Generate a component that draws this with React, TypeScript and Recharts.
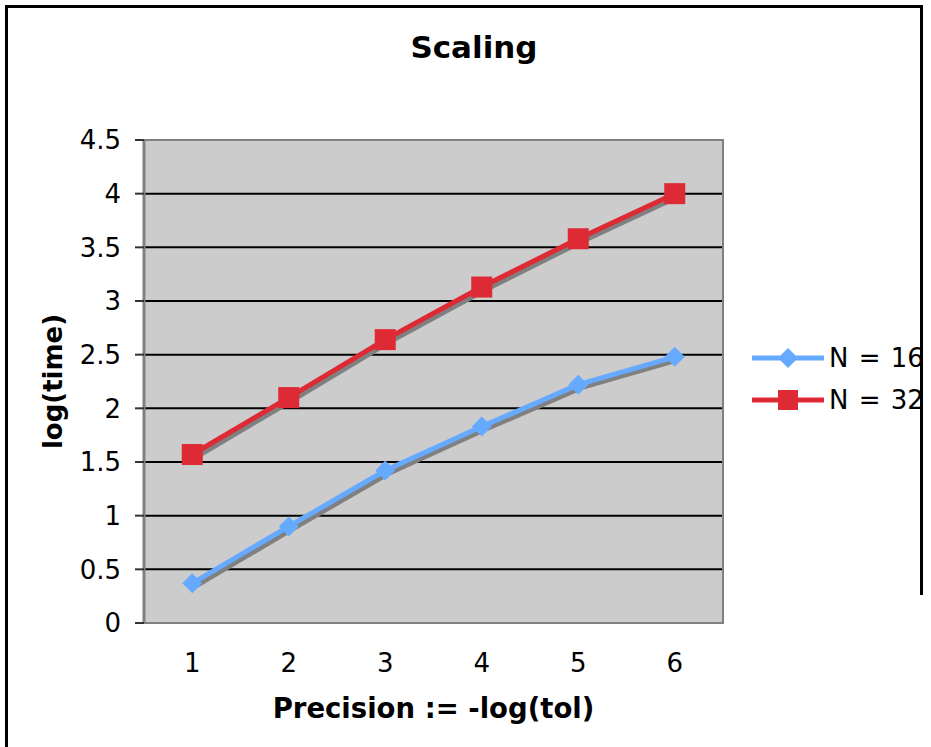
import React from 'react';
import { LineChart, Line, XAxis, YAxis, CartesianGrid, ReferenceArea } from 'recharts';

const categories = [1, 2, 3, 4, 5, 6];
const n16 = [0.37, 0.9, 1.42, 1.83, 2.22, 2.48];
const n32 = [1.57, 2.1, 2.64, 3.13, 3.58, 4.0];
const yTicks = [0, 0.5, 1, 1.5, 2, 2.5, 3, 3.5, 4, 4.5];
const gridValues = [0.5, 1, 1.5, 2, 2.5, 3, 3.5, 4];
const xBoundaries = [0.5, 1.5, 2.5, 3.5, 4.5, 5.5, 6.5];
const seriesNames = ['N = 16', 'N = 32'];

const BLUE = '#66aaff';
const RED = '#dd2a34';
const FONT = '"DejaVu Sans", Verdana, sans-serif';

const data = categories.map((c, i) => ({ x: c, a: n16[i], b: n32[i] }));

const Diamond = (props: any) => {
  const { cx, cy } = props;
  if (cx == null || cy == null) return null;
  const r = 10;
  return <polygon points={`${cx},${cy - r} ${cx + r},${cy} ${cx},${cy + r} ${cx - r},${cy}`} fill={BLUE} />;
};

const Square = (props: any) => {
  const { cx, cy } = props;
  if (cx == null || cy == null) return null;
  const s = 21;
  return <rect x={cx - s / 2} y={cy - s / 2} width={s} height={s} fill={RED} />;
};

const LegendBox = () => (
  <div style={{ position: 'absolute', left: 752, top: 337, fontFamily: FONT, fontSize: 26, color: '#000' }}>
    {[{ c: BLUE, m: 'd' }, { c: RED, m: 's' }].map((e, i) => (
      <div key={i} style={{ display: 'flex', alignItems: 'center', height: 42 }}>
        <svg width={72} height={30}>
          <line x1={0} y1={15} x2={72} y2={15} stroke={e.c} strokeWidth={5} />
          {e.m === 'd' ? (
            <polygon points="36,5 46,15 36,25 26,15" fill={e.c} />
          ) : (
            <rect x={26} y={5} width={20} height={20} fill={e.c} />
          )}
        </svg>
        <span style={{ marginLeft: 5, whiteSpace: 'pre', wordSpacing: 2 }}>{seriesNames[i]}</span>
      </div>
    ))}
  </div>
);

const YLabel = (props: any) => {
  const { viewBox } = props;
  const cx = viewBox.x + 53;
  const cy = viewBox.y + viewBox.height / 2;
  return (
    <text x={cx} y={cy} transform={`rotate(-90, ${cx}, ${cy})`} textAnchor="middle" dominantBaseline="central"
      style={{ fontFamily: FONT, fontSize: 26, fontWeight: 'bold', fill: '#000' }}>
      log(time)
    </text>
  );
};

export default function App() {
  return (
    <div style={{ position: 'absolute', left: 0, top: 0, width: 931, height: 747, background: '#fff', overflow: 'hidden' }}>
      <style>{`.recharts-line { filter: drop-shadow(3px 3px 0 #808080); }`}</style>
      <div style={{ position: 'absolute', left: 5, top: 5, width: 915, height: 800, borderLeft: '3px solid #000', borderTop: '3px solid #000' }} />
      <div style={{ position: 'absolute', left: 920, top: 5, width: 3, height: 590, background: '#000' }} />
      <div style={{ position: 'absolute', left: 0, top: 29, width: 948, textAlign: 'center', fontFamily: FONT, fontWeight: 'bold', fontSize: 31, color: '#000' }}>
        Scaling
      </div>
      <LineChart width={931} height={747} data={data} margin={{ top: 140, right: 208, bottom: 0, left: 0 }} style={{ position: 'absolute', left: 0, top: 0 }}>
        <CartesianGrid fill="#cccccc" vertical={false} horizontalValues={gridValues} stroke="#000" strokeWidth={2} strokeOpacity={1} />
        <ReferenceArea xAxisId="tk" x1={0.5} x2={6.5} y1={0} y2={4.5} fill="none" stroke="#808080" strokeWidth={2} fillOpacity={0} />
        <XAxis xAxisId="tk" dataKey="x" type="number" domain={[0.5, 6.5]} ticks={xBoundaries} tickFormatter={() => ''}
          height={0} tickSize={8} stroke="#808080" tickLine={{ stroke: '#808080', strokeWidth: 2 }} axisLine={{ stroke: '#606060', strokeWidth: 2 }} />
        <XAxis xAxisId="lbl" dataKey="x" type="number" domain={[0.5, 6.5]} ticks={categories} tickLine={false} axisLine={false}
          height={124} tickSize={0} tickMargin={31} tick={{ fontFamily: FONT, fontSize: 26, fill: '#000' }}
          label={{ value: 'Precision := -log(tol)', position: 'insideBottom', offset: 29, style: { fontFamily: FONT, fontSize: 27.5, fontWeight: 'bold', fill: '#000' } }} />
        <YAxis domain={[0, 4.5]} ticks={yTicks} width={144} tickSize={9} tickMargin={14}
          tick={{ fontFamily: FONT, fontSize: 26, fill: '#000' }} tickLine={{ stroke: '#333', strokeWidth: 2 }}
          axisLine={{ stroke: '#808080', strokeWidth: 3 }} label={<YLabel />} />
        <Line xAxisId="lbl" dataKey="a" name={seriesNames[0]} stroke={BLUE} strokeWidth={5} dot={<Diamond />} activeDot={false} isAnimationActive={false} />
        <Line xAxisId="lbl" dataKey="b" name={seriesNames[1]} stroke={RED} strokeWidth={5} dot={<Square />} activeDot={false} isAnimationActive={false} />
      </LineChart>
      <LegendBox />
    </div>
  );
}
